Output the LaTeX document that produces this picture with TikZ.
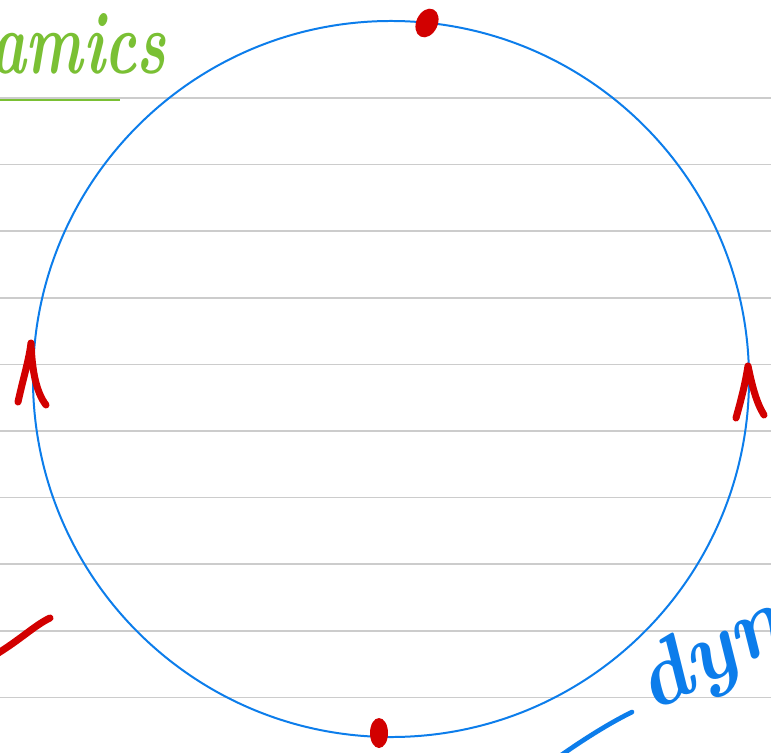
\documentclass[tikz,border=0pt]{standalone}
\definecolor{ruleGray}{RGB}{204,204,204}
\definecolor{penBlue}{RGB}{12,125,235}
\definecolor{penRed}{RGB}{210,0,0}
\definecolor{penGreen}{RGB}{122,192,52}
\begin{document}
\begin{tikzpicture}[x=0.03cm, y=-0.03cm,
        rule/.style={draw=ruleGray, line width=1.3pt},
        ink/.style={draw=penRed, line width=6pt, line cap=round, line join=round},
        every node/.style={inner sep=0pt, font=\bfseries\itshape\fontsize{76}{76}\selectfont}]
    \useasboundingbox (0,0) rectangle (771,753);
    \clip (0,0) rectangle (771,753);
    \fill[white] (0,0) rectangle (771,753);

    % ruled paper
    \foreach \k in {0,...,9}
        \draw[rule] (0,{98+66.6*\k}) -- (771,{98+66.6*\k});

    % heading, cut at the left edge
    \node (amics) [text=penGreen, anchor=base west, xscale=0.68] at (-10,73) {amics};
    \draw[penGreen, line width=1.6pt] (0,100) -- (120,100);

    % the circle
    \draw[penBlue, line width=1.7pt] (391,379) circle (10.74cm);

    % red marks
    \fill[penRed, rotate around={-25:(427,23)}] (427,23) ellipse [x radius=0.32cm, y radius=0.45cm];
    \fill[penRed] (379,733) ellipse [x radius=0.27cm, y radius=0.45cm];
    \draw[ink] (18,402) .. controls (24,375) and (29,360) .. (31,343)
        .. controls (32,370) and (36,392) .. (46,405);
    \draw[ink] (736,418) .. controls (741,400) and (745,385) .. (748,366)
        .. controls (752,385) and (756,402) .. (764,415);
    \draw[ink] (-5,655) .. controls (20,640) and (35,625) .. (50,618);

    % blue writing, bottom right
    \draw[penBlue, line width=4pt, line cap=round] (560,756) .. controls (590,735) and (612,722) .. (632,712);
    \node (dyn) [text=penBlue, anchor=base west, rotate=28] at (652,714) {dyn};
\end{tikzpicture}
\end{document}
